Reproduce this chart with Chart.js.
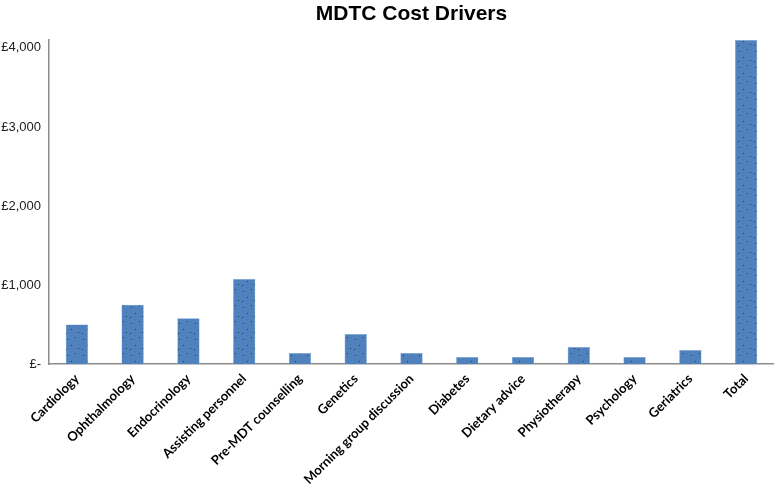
<!DOCTYPE html>
<html>
<head>
<meta charset="utf-8">
<script src="https://cdn.jsdelivr.net/npm/chart.js@4/dist/chart.umd.min.js"></script>
<style>
  html, body { margin: 0; padding: 0; background: #fff; }
  #wrap { width: 774px; height: 487px; position: relative; }
</style>
</head>
<body>
<div id="wrap"><canvas id="costChart"></canvas></div>
<script>
  const categories = ['Cardiology', 'Ophthalmology', 'Endocrinology', 'Assisting personnel',
    'Pre-MDT counselling', 'Genetics', 'Morning group discussion', 'Diabetes',
    'Dietary advice', 'Physiotherapy', 'Psychology', 'Geriatrics', 'Total'];
  const costs = [500, 750, 580, 1075, 140, 380, 140, 90, 90, 215, 90, 177, 4100];
  const yTicks = [0, 1000, 2000, 3000, 4000];
  const titleText = 'MDTC Cost Drivers';

  // dotted blue fill, like the original Excel texture
  function makePattern() {
    const c = document.createElement('canvas');
    c.width = 16; c.height = 16;
    const g = c.getContext('2d');
    g.fillStyle = '#4f81bd';
    g.fillRect(0, 0, 16, 16);
    g.fillStyle = '#22395a';
    [[3, 3], [11, 1], [7, 9], [14, 12], [2, 13]].forEach(function (p) {
      g.fillRect(p[0], p[1], 1, 1);
    });
    return g.createPattern(c, 'repeat');
  }

  const titlePlugin = {
    id: 'centredTitle',
    afterDraw: function (chart) {
      const ctx = chart.ctx;
      const a = chart.chartArea;
      ctx.save();
      ctx.font = 'bold 21px "Liberation Sans", Arial, sans-serif';
      ctx.fillStyle = '#000';
      ctx.textAlign = 'center';
      ctx.textBaseline = 'middle';
      ctx.fillText(titleText, (a.left + a.right) / 2, 14);
      ctx.restore();
    }
  };

  new Chart(document.getElementById('costChart'), {
    type: 'bar',
    data: {
      labels: categories,
      datasets: [{
        data: costs,
        backgroundColor: makePattern(),
        borderColor: '#7aa3d4',
        borderWidth: 0.5,
        barPercentage: 0.4,
        categoryPercentage: 1
      }]
    },
    options: {
      responsive: true,
      maintainAspectRatio: false,
      animation: false,
      layout: { padding: { top: 40, right: 0, left: 0, bottom: 0 } },
      plugins: {
        legend: { display: false },
        tooltip: { enabled: false }
      },
      scales: {
        x: {
          grid: { display: false, drawTicks: false },
          border: { color: '#8c8c8c', width: 1.5 },
          ticks: {
            maxRotation: 45, minRotation: 45, autoSkip: false, padding: 7,
            color: '#000',
            font: { family: 'Lato, "Open Sans", sans-serif', size: 13, weight: 'bold' }
          },
          afterFit: function (s) { s.height = 123; }
        },
        y: {
          min: 0, max: 4100,
          grid: { display: false, drawTicks: false },
          border: { color: '#8c8c8c', width: 1.5 },
          afterBuildTicks: function (s) { s.ticks = yTicks.map(function (v) { return { value: v }; }); },
          ticks: {
            padding: 8,
            color: '#222',
            font: { family: '"Liberation Sans", Arial, sans-serif', size: 13 },
            callback: function (v) { return v === 0 ? '£-' : '£' + v.toLocaleString('en-GB'); }
          },
          afterFit: function (s) { s.width = 49; }
        }
      }
    },
    plugins: [titlePlugin]
  });
</script>
</body>
</html>
